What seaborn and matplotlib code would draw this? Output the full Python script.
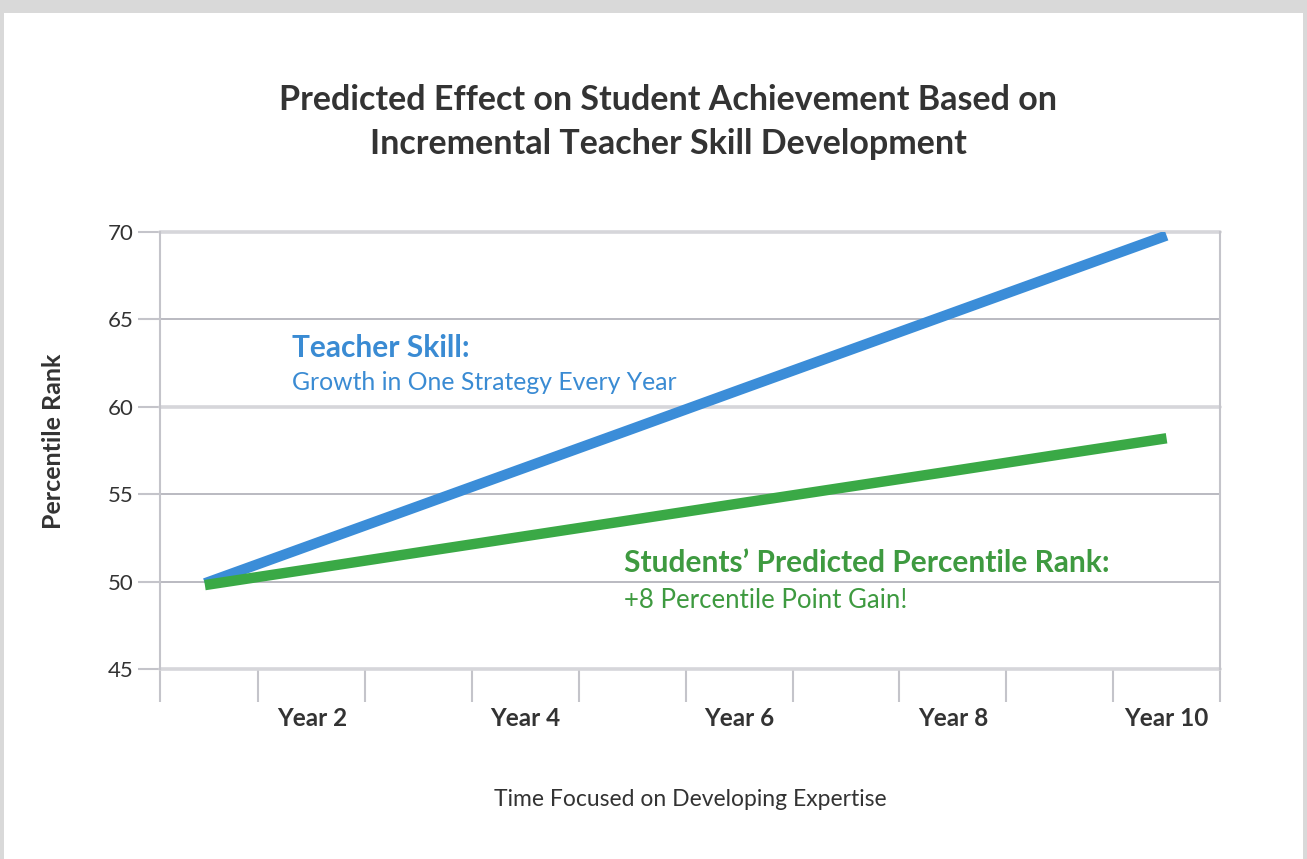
import matplotlib
matplotlib.use("Agg")
import matplotlib.pyplot as plt
import seaborn as sns
import pandas as pd
from matplotlib.patches import Rectangle

years = [1, 2, 3, 4, 5, 6, 7, 8, 9, 10]
teacher_skill = [49.9, 52.11, 54.32, 56.53, 58.74, 60.96, 63.17, 65.38, 67.59, 69.8]
student_rank = [49.8, 50.73, 51.67, 52.6, 53.53, 54.47, 55.4, 56.33, 57.27, 58.2]
series_names = ["Teacher Skill", "Students' Predicted Percentile Rank"]
tick_years = [2, 4, 6, 8, 10]
tick_labels = ["Year 2", "Year 4", "Year 6", "Year 8", "Year 10"]
y_ticks = [45, 50, 55, 60, 65, 70]

df = pd.DataFrame({
    "year": years + years,
    "value": teacher_skill + student_rank,
    "series": [series_names[0]] * len(years) + [series_names[1]] * len(years),
})

sns.set_theme(style="white")
plt.rcParams["font.family"] = ["Lato", "DejaVu Sans"]

BLUE = "#3b8dd8"
GREEN = "#3aa946"
BLUE_TXT = "#3a8bd3"
GREEN_TXT = "#3e9a40"
DARK = "#333333"
GRID = "#c4c4ca"
GRID_LIGHT = "#d6d6da"
GRID_DARK = "#b4b4bc"

fig = plt.figure(figsize=(13.07, 8.59), dpi=100)
fig.patch.set_facecolor("white")
# frame shadow
fig.patches.append(Rectangle((0, 1 - 13 / 859), 1, 13 / 859, transform=fig.transFigure,
                             facecolor="#d9d9d9", edgecolor="none", zorder=0))
fig.patches.append(Rectangle((0, 0), 4 / 1307, 1, transform=fig.transFigure,
                             facecolor="#d9d9d9", edgecolor="none", zorder=0))
fig.patches.append(Rectangle((1 - 4 / 1307, 0), 4 / 1307, 1, transform=fig.transFigure,
                             facecolor="#d9d9d9", edgecolor="none", zorder=0))

ax = fig.add_axes([160 / 1307, 1 - 669 / 859, 1060 / 1307, 437 / 859])

sns.lineplot(data=df, x="year", y="value", hue="series",
             palette={series_names[0]: BLUE, series_names[1]: GREEN},
             linewidth=7.5, legend=False, ax=ax, solid_capstyle="butt", zorder=3)

ax.set_xlim(0.58, 10.5)
ax.set_ylim(45, 70)

for s in ["top", "bottom"]:
    ax.spines[s].set_visible(False)
for s in ["left", "right"]:
    ax.spines[s].set_color(GRID)
    ax.spines[s].set_linewidth(1.5)

for y in y_ticks:
    if y in (70, 60, 45):
        ax.axhline(y, color=GRID_LIGHT, lw=2.6, zorder=1, clip_on=False)
    else:
        ax.axhline(y, color=GRID_DARK, lw=1.3, zorder=1, clip_on=False)

ax.set_yticks(y_ticks)
ax.set_yticklabels([str(v) for v in y_ticks], fontsize=16, color=DARK)
ax.tick_params(axis="y", length=16, width=1.5, color=GRID, pad=3, left=True)

ax.set_xticks(tick_years)
ax.set_xticklabels(tick_labels, fontsize=17.5, fontweight="bold", color=DARK)
ax.set_xticks([0.58] + [x + 0.5 for x in years], minor=True)
ax.tick_params(axis="x", which="major", length=0, pad=27)
ax.tick_params(axis="x", which="minor", length=24, width=1.5, color=GRID, bottom=True)

ax.set_xlabel("Time Focused on Developing Expertise", fontsize=16.5, color=DARK, labelpad=43)
ax.set_ylabel("Percentile Rank", fontsize=18, fontweight="bold", color=DARK)
ax.yaxis.set_label_coords(-95 / 1060, 0.52)

fig.text(668 / 1307, 1 - 122 / 859,
         "Predicted Effect on Student Achievement Based on\nIncremental Teacher Skill Development",
         ha="center", va="center", fontsize=24.5, fontweight="bold", color=DARK, linespacing=1.5)

ax.text(292 / 1307, 1 - 348 / 859, "Teacher Skill:", transform=fig.transFigure,
        fontsize=21.5, fontweight="bold", color=BLUE_TXT, va="center", ha="left")
ax.text(292 / 1307, 1 - 383 / 859, "Growth in One Strategy Every Year", transform=fig.transFigure,
        fontsize=17.8, color=BLUE_TXT, va="center", ha="left")
ax.text(624 / 1307, 1 - 563 / 859, "Students\u2019 Predicted Percentile Rank:", transform=fig.transFigure,
        fontsize=21.5, fontweight="bold", color=GREEN_TXT, va="center", ha="left")
ax.text(624 / 1307, 1 - 600 / 859, "+8 Percentile Point Gain!", transform=fig.transFigure,
        fontsize=18.5, color=GREEN_TXT, va="center", ha="left")

fig.savefig("out.png", dpi=100, facecolor="white")
